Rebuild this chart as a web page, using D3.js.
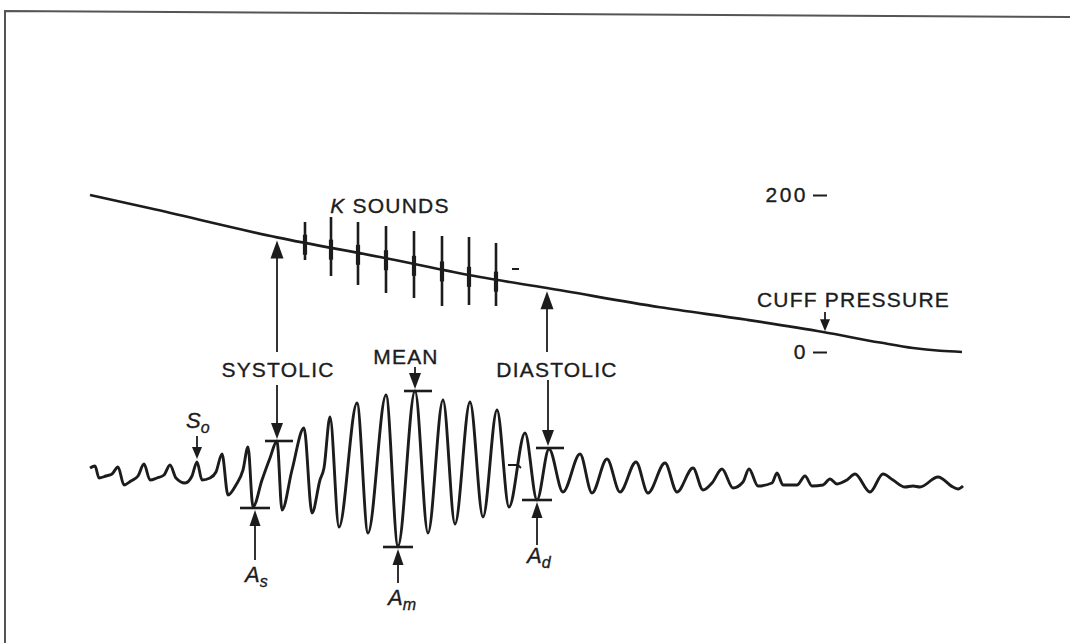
<!DOCTYPE html>
<html>
<head>
<meta charset="utf-8">
<script src="https://cdn.jsdelivr.net/npm/d3@7"></script>
<style>
  html, body { margin: 0; padding: 0; background: #ffffff; }
  svg { display: block; }
  text { font-family: "Liberation Sans", Arial, sans-serif; fill: #1c1c1c; stroke: #1c1c1c; stroke-width: 0.35px; }
</style>
</head>
<body>
<svg id="chart" width="1070" height="643"></svg>
<script>
// Cuff deflation record: time (s) and cuff pressure (mmHg)
const cuffTime     = [0, 3, 9.35, 14.5, 19.5, 22.85, 28.5, 32.85, 36.65, 39.5, 41.15, 42.5, 43.6];
const cuffPressure = [200, 183, 146, 121, 95.5, 81.5, 57, 41, 25.5, 12, 5, 1.5, 0];

// Korotkoff sounds riding on the cuff trace: time and spike extent (mmHg scale)
const kTime   = [10.75, 12.05, 13.4, 14.8, 16.2, 17.6, 18.95, 20.3];
const kTop    = [165.6, 172.0, 165.6, 160.5, 154.1, 147.8, 146.5, 138.9];
const kBottom = [117.2, 96.8, 85.4, 75.2, 68.8, 58.6, 59.9, 58.6];

// Cuff pressure oscillations (time s, amplitude in arbitrary units)
const oscTime = [
  0, 0.25, 0.45, 0.8, 1.1, 1.4, 1.7, 2.05, 2.4, 2.7, 3.0, 3.35, 3.7, 4.0, 4.3, 4.75,
  5.1, 5.35, 5.6, 6.0, 6.3, 6.6, 6.9, 7.3, 7.65, 7.9, 8.15, 8.6, 9.0, 9.35, 9.6, 10.1,
  10.7, 11.1, 11.5, 11.7, 12.0, 12.45, 13.35, 13.9, 14.8, 15.4, 16.25, 16.9, 17.65, 18.25,
  19.0, 19.65, 20.35, 20.95, 21.75, 22.35, 22.95, 23.65, 24.5, 25.1, 25.85, 26.5, 27.3, 27.9,
  28.75, 29.35, 30.15, 30.65, 31.1, 31.6, 32.15, 32.65, 32.95, 33.4, 34.1, 34.35, 34.65, 35.35,
  35.75, 36.1, 36.65, 37.0, 37.35, 37.85, 38.25, 39.0, 39.65, 40.15, 40.75, 41.15, 41.5, 42.4,
  43.15, 43.4, 43.65
];
const oscValue = [
  1.2, 1.4, 0.2, 0.4, 0.6, 1.3, -0.5, -0.1, 0.4, 1.6, 0, 0.2, 0.5, 1.5, 0.2, -0.3,
  0.4, 1.8, 0, 0.2, 0.8, 2.6, -1.5, -0.5, 1.0, 3.3, -2.7, 0, 2.2, 3.9, -3.0, 1.0,
  5.2, -3.3, 0, 1.2, 6.3, -4.7, 7.7, -5.3, 8.5, -6.6, 8.9, -5.3, 8.0, -4.4,
  7.8, -3.7, 7.0, -2.7, 4.7, -2.0, 3.1, -1.2, 2.6, -1.3, 2.1, -1.2, 1.8, -1.3,
  1.7, -1.2, 1.2, -1.0, -0.3, 1.1, -0.8, -0.2, 1.1, -0.6, -0.3, 0.7, -0.5, -0.5,
  0.4, -0.6, -0.5, 0.1, -0.4, 0, 0.6, -1.2, 0.6, 0, -0.7, -0.6, -0.7, 0.3,
  -0.7, -0.9, -0.6
];

// Pressure scale ticks
const pressureTicks = [0, 200];

// Reference points on the oscillation envelope
const peakNames  = ["SYSTOLIC", "MEAN", "DIASTOLIC"];
const peakTime   = [9.35, 16.25, 22.9];
const peakValue  = [3.9, 8.9, 3.2];
const troughNames = ["s", "m", "d"];
const troughTime  = [8.25, 15.4, 22.35];
const troughValue = [-2.8, -6.7, -2.0];
const onsetTime = 5.35;

// ---- scales ----
const x  = d3.scaleLinear().domain([0, 44]).range([90, 970]);
const pY = d3.scaleLinear().domain([0, 200]).range([352, 195]);
const oY = d3.scaleLinear().domain([-10, 10]).range([580, 380]);
const cuffAt = d3.scaleLinear().domain(cuffTime).range(cuffPressure);

const ink = "#1c1c1c";
const svg = d3.select("#chart");

// page frame
svg.append("path")
  .attr("d", "M5,643 L5,11 L1070,17")
  .attr("fill", "none").attr("stroke", "#555").attr("stroke-width", 2);

// ---- cuff pressure trace ----
const cuffLine = d3.line()
  .x((d, i) => x(cuffTime[i]))
  .y((d, i) => pY(cuffPressure[i]))
  .curve(d3.curveMonotoneX);
svg.append("path")
  .attr("d", cuffLine(cuffTime))
  .attr("fill", "none").attr("stroke", ink).attr("stroke-width", 2.6)
  .attr("stroke-linejoin", "round");

// Korotkoff sound spikes
const kg = svg.append("g");
kTime.forEach((t, i) => {
  kg.append("line")
    .attr("x1", x(t)).attr("x2", x(t))
    .attr("y1", pY(kTop[i])).attr("y2", pY(kBottom[i]))
    .attr("stroke", ink).attr("stroke-width", 2.6);
  const c = pY(cuffAt(t));
  kg.append("line")
    .attr("x1", x(t)).attr("x2", x(t))
    .attr("y1", c - 8).attr("y2", c + 12)
    .attr("stroke", ink).attr("stroke-width", 4.2);
});

// pressure scale
const axis = d3.axisLeft(pY).tickValues(pressureTicks).tickSize(14).tickPadding(5);
const gA = svg.append("g").attr("transform", "translate(827,0)").call(axis);
gA.select(".domain").remove();
gA.selectAll("line").attr("stroke", ink).attr("stroke-width", 2);
gA.selectAll("text")
  .attr("font-family", "'Liberation Sans', Arial, sans-serif")
  .attr("font-size", 21).attr("letter-spacing", 2.5).attr("fill", ink);

// ---- oscillation trace ----
const oscLine = d3.line()
  .x((d, i) => x(oscTime[i]))
  .y((d, i) => oY(oscValue[i]))
  .curve(d3.curveMonotoneX);
svg.append("path")
  .attr("d", oscLine(oscTime))
  .attr("fill", "none").attr("stroke", ink).attr("stroke-width", 2.9)
  .attr("stroke-linejoin", "round");

// ---- annotation helpers ----
function arrow(ax, yTail, yTip, head, w) {
  const dir = yTip > yTail ? 1 : -1;
  svg.append("line")
    .attr("x1", ax).attr("x2", ax)
    .attr("y1", yTail).attr("y2", yTip - dir * head * 0.6)
    .attr("stroke", ink).attr("stroke-width", 1.8);
  svg.append("path")
    .attr("d", `M${ax},${yTip} L${ax - w / 2},${yTip - dir * head} L${ax + w / 2},${yTip - dir * head} Z`)
    .attr("fill", ink);
}
function bar(cx, y, w) {
  svg.append("line")
    .attr("x1", cx - w / 2).attr("x2", cx + w / 2)
    .attr("y1", y).attr("y2", y)
    .attr("stroke", ink).attr("stroke-width", 2.6);
}
function label(txt, lx, ly, anchor) {
  return svg.append("text")
    .attr("x", lx).attr("y", ly)
    .attr("text-anchor", anchor || "middle")
    .attr("font-size", 21).attr("letter-spacing", 1.2)
    .text(txt);
}

// K sounds / cuff pressure labels
const kLab = svg.append("text")
  .attr("x", 390).attr("y", 213).attr("text-anchor", "middle")
  .attr("font-size", 21).attr("letter-spacing", 1.2);
kLab.append("tspan").attr("font-style", "italic").text("K");
kLab.append("tspan").text(" SOUNDS");
label("CUFF PRESSURE", 757, 307, "start");
arrow(825, 312, pY(cuffAt(x.invert(825))) - 1, 12, 10);

// systolic, mean, diastolic markers
const labelY = [377, 364, 377];
const labelX = [278, 406, 557];
const lowerTail = [385, 367, 380];
peakNames.forEach((name, i) => {
  const px = x(peakTime[i]);
  const by = oY(peakValue[i]);
  label(name, labelX[i], labelY[i]);
  arrow(px, lowerTail[i], by - 2, 16, 12);
  bar(px + (i === 1 ? 3 : 2), by, 28);
});

// arrows from the cuff trace down to the systolic and diastolic labels
[0, 2].forEach(i => {
  const px = x(peakTime[i]) - (i === 2 ? 1 : 0);
  const cy = pY(cuffAt(peakTime[i]));
  arrow(px, 352, cy + 3, 18, 13);
});

// amplitude markers below the trace
const troughTail = [560, 583, 545];
const troughLabelY = [582, 605, 563];
troughNames.forEach((sub, i) => {
  const tx = x(troughTime[i]);
  const by = oY(troughValue[i]);
  bar(tx, by, 30);
  arrow(tx, troughTail[i], by + 2, 16, 11);
  const t = svg.append("text")
    .attr("x", tx - 10).attr("y", troughLabelY[i])
    .attr("font-size", 22).attr("font-style", "italic");
  t.append("tspan").text("A");
  t.append("tspan").attr("font-size", 16).attr("dy", 5).text(sub);
});

// onset of oscillations
const sx = x(onsetTime);
arrow(sx, 436, oY(1.8) - 3, 12, 10);
const st = svg.append("text")
  .attr("x", sx - 11).attr("y", 428)
  .attr("font-size", 22).attr("font-style", "italic");
st.append("tspan").text("S");
st.append("tspan").attr("font-size", 16).attr("dy", 5).text("o");

// small pen marks on the record
svg.append("line").attr("x1", 512).attr("x2", 519).attr("y1", 269).attr("y2", 269)
  .attr("stroke", ink).attr("stroke-width", 2);
svg.append("path").attr("d", "M508,465 L518,465 L521,468")
  .attr("fill", "none").attr("stroke", ink).attr("stroke-width", 1.8);
</script>
</body>
</html>
